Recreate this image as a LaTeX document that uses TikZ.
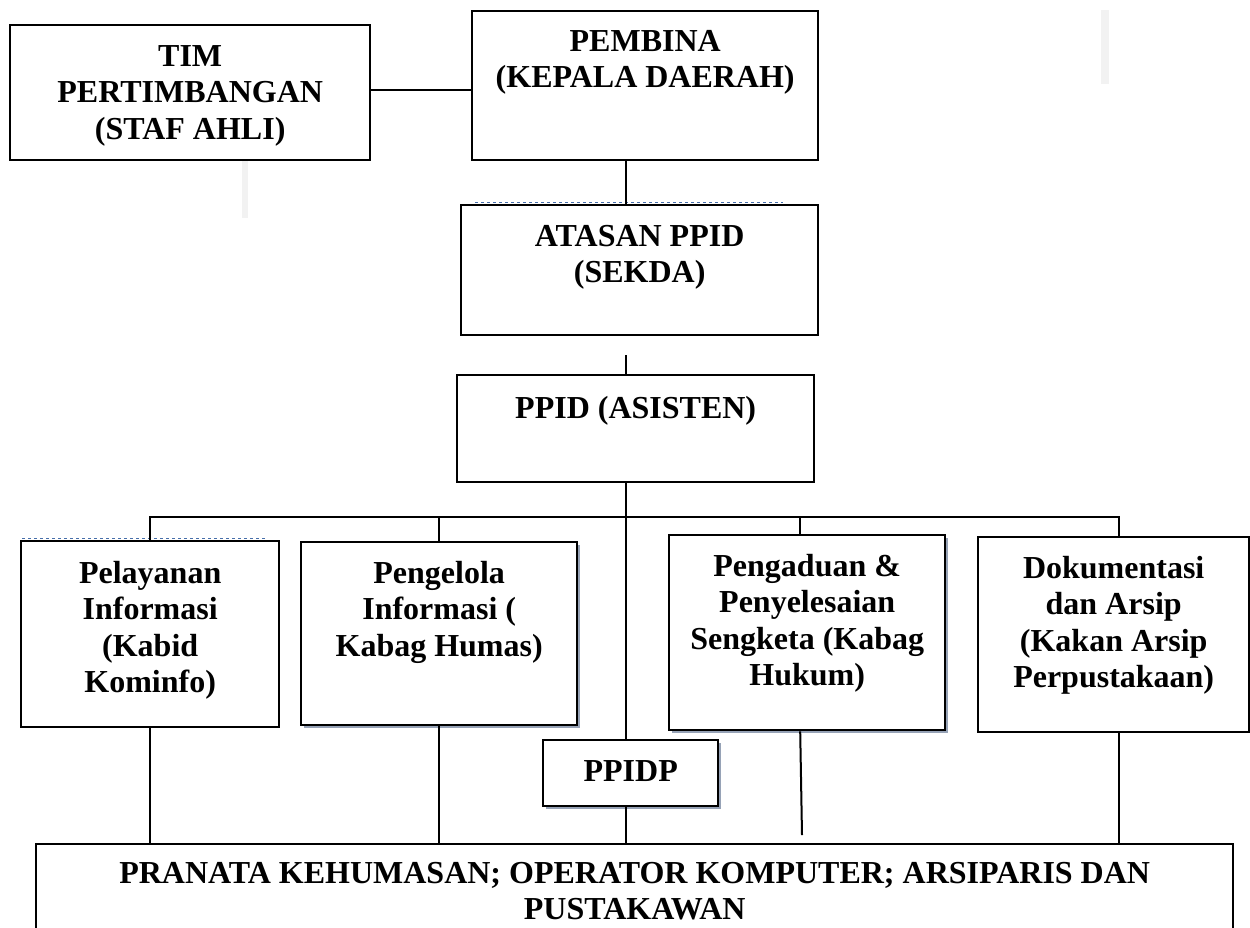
\documentclass[tikz,border=0pt]{standalone}
\usepackage{fontspec}
\setmainfont{Liberation Serif}
\usetikzlibrary{positioning, shadows}
\definecolor{scanblue}{RGB}{70,110,170}
\definecolor{shadegray}{RGB}{150,162,182}

\begin{document}
\begin{tikzpicture}[x=1pt, y=-1pt]

% Define block styles
\tikzstyle{unit} = [rectangle, draw=black, line width=2.4pt, fill=white, inner sep=0pt, anchor=north west, align=center, font=\fontsize{32}{36.5}\selectfont\bfseries]
\tikzstyle{shade} = [drop shadow={shadow xshift=3pt, shadow yshift=-3pt, fill=shadegray, opacity=1}]
\tikzstyle{link} = [line width=2pt]

\useasboundingbox (0,0) rectangle (1250,927);

% faint marks of the scan
\fill [gray!10] (242,160) rectangle (248,218);
\fill [gray!10] (1101,10) rectangle (1109,84);

% Top
\node (tim) [unit, minimum width=360pt, text height=114pt, text depth=21pt] at (9,24) {TIM\\PERTIMBANGAN\\(STAF AHLI)};
\node (pembina) [unit, minimum width=346pt, text height=76.5pt, text depth=72.5pt] at (471,10) {PEMBINA\\(KEPALA DAERAH)};
\node (atasan) [unit, minimum width=357pt, text height=77.5pt, text depth=52.5pt] at (460,204) {ATASAN PPID\\(SEKDA)};
\node (asisten) [unit, minimum width=357pt, text height=43pt, text depth=64pt] at (456,374) {PPID (ASISTEN)};

% Bidang
\node (pelayanan) [unit, minimum width=258pt, text height=151.5pt, text depth=34.5pt] at (20,540) {Pelayanan\\Informasi\\(Kabid\\Kominfo)};
\node (pengelola) [unit, shade, minimum width=276pt, text height=114pt, text depth=69pt] at (300,541) {Pengelola\\Informasi (\\Kabag Humas)};
\node (pengaduan) [unit, shade, minimum width=276pt, text height=150.5pt, text depth=44.5pt] at (668,534) {Pengaduan \&\\Penyelesaian\\Sengketa (Kabag\\Hukum)};
\node (dokumentasi) [unit, minimum width=271pt, text height=150.5pt, text depth=44.5pt] at (977,536) {Dokumentasi\\dan Arsip\\(Kakan Arsip\\Perpustakaan)};
\node (ppidp) [unit, shade, minimum width=175pt, text height=41pt, text depth=25pt] at (542,739) {PPIDP};

% Bottom
\node (pranata) [unit, minimum width=1197pt, text height=75.5pt, text depth=34.5pt] at (35,843) {PRANATA KEHUMASAN; OPERATOR KOMPUTER; ARSIPARIS DAN\\PUSTAKAWAN};

% dashed traces
\draw [scanblue, dashed, line width=0.8pt] (475,202) -- (783,202);
\draw [scanblue, dashed, line width=0.8pt] (22,538.5) -- (265,538.5);

% Lines
\coordinate (spine) at (626,517);
\coordinate (gap) at (626,355);
\coordinate (hukum) at (802,835);
\draw [link] ([yshift=3pt]tim.east) -- ([yshift=3pt]tim.east -| pembina.west);
\draw [link] (pembina.south -| spine) -- (atasan.north -| spine);
\draw [link] (gap) -- (asisten.north -| spine);
\draw [link] (asisten.south -| spine) -- (spine);
\draw [link] (pelayanan.north) |- ([xshift=5.5pt]dokumentasi.north |- spine) -- ([xshift=5.5pt]dokumentasi.north);
\draw [link] (pengelola.north) -- (pengelola.north |- spine);
\draw [link] ([xshift=-7pt]pengaduan.north) -- ([xshift=-7pt]pengaduan.north |- spine);
\draw [link] (spine) -- (ppidp.north -| spine);
\draw [link] (pelayanan.south) -- (pelayanan.south |- pranata.north);
\draw [link] (pengelola.south) -- (pengelola.south |- pranata.north);
\draw [link] (ppidp.south -| spine) -- (pranata.north -| spine);
\draw [link] ([xshift=-7pt]pengaduan.south) -- (hukum);
\draw [link] ([xshift=5.5pt]dokumentasi.south) -- ([xshift=5.5pt]dokumentasi.south |- pranata.north);

\end{tikzpicture}
\end{document}
